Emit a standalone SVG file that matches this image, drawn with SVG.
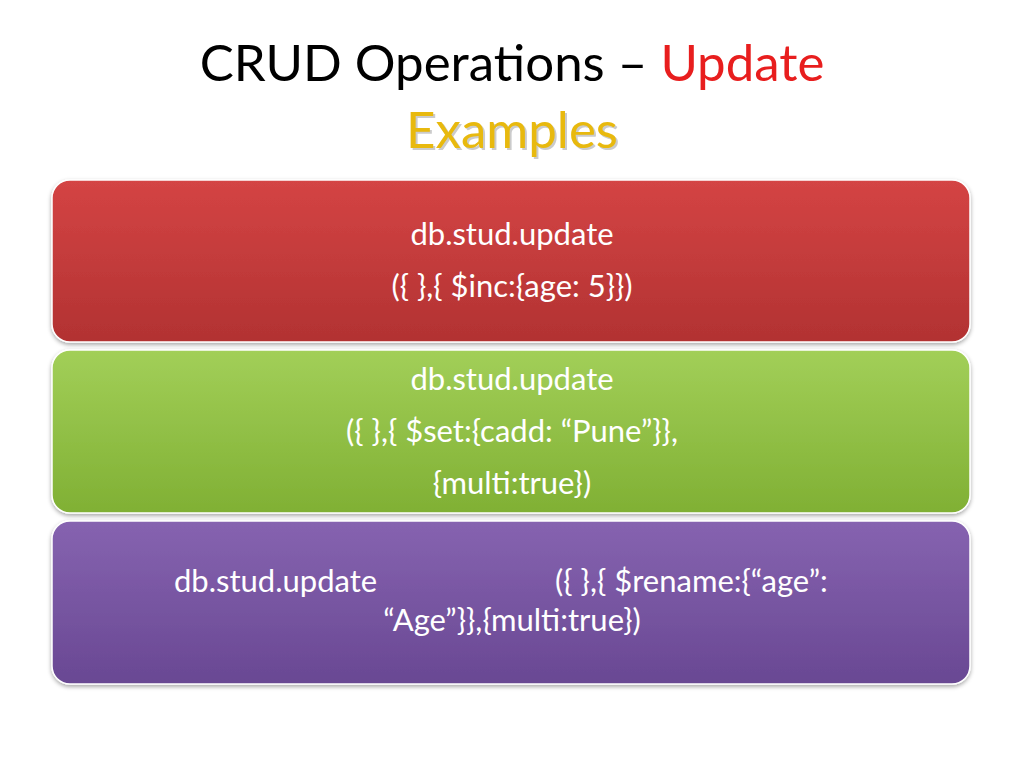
<svg xmlns="http://www.w3.org/2000/svg" width="1024" height="768" viewBox="0 0 1024 768">
<defs>
<linearGradient id="gr" x1="0" y1="0" x2="0" y2="1"><stop offset="0" stop-color="#D44444"/><stop offset="1" stop-color="#B23232"/></linearGradient>
<linearGradient id="gg" x1="0" y1="0" x2="0" y2="1"><stop offset="0" stop-color="#A2CF58"/><stop offset="1" stop-color="#80B034"/></linearGradient>
<linearGradient id="gp" x1="0" y1="0" x2="0" y2="1"><stop offset="0" stop-color="#8663B0"/><stop offset="1" stop-color="#694893"/></linearGradient>
<filter id="sh" x="-5%" y="-5%" width="110%" height="115%"><feDropShadow dx="0" dy="2" stdDeviation="2" flood-color="#000" flood-opacity="0.35"/></filter>
</defs>
<style>
.t{font-family:Lato,"Open Sans",sans-serif;font-size:51px}
.b{font-family:Lato,"Open Sans",sans-serif;font-size:31px;fill:#fff}
.m{text-anchor:middle}
</style>
<rect width="1024" height="768" fill="#fff"/>
<g id="title">
<text class="t m" x="512" y="81" fill="#000">CRUD Operations – <tspan fill="#E81E1E">Update</tspan></text>
<text class="t m" x="514" y="150" fill="#999" opacity="0.5">Examples</text>
<text class="t m" x="512" y="148" fill="#E8B90E">Examples</text>
</g>
<g id="n1"><rect x="52" y="180" width="918" height="162" rx="18" fill="url(#gr)" stroke="#fff" stroke-width="1.5" filter="url(#sh)"/>
<text class="b m" x="512" y="245">db.stud.update</text>
<text class="b m" x="512" y="297">({ },{ $inc:{age: 5}})</text></g>
<g id="n2"><rect x="52" y="350" width="918" height="163" rx="18" fill="url(#gg)" stroke="#fff" stroke-width="1.5" filter="url(#sh)"/>
<text class="b m" x="512" y="390">db.stud.update</text>
<text class="b m" x="512" y="442">({ },{ $set:{cadd: “Pune”}},</text>
<text class="b m" x="512" y="494">{multi:true})</text></g>
<g id="n3"><rect x="52" y="521" width="918" height="163" rx="18" fill="url(#gp)" stroke="#fff" stroke-width="1.5" filter="url(#sh)"/>
<text class="b" x="174" y="592">db.stud.update</text>
<text class="b" x="555" y="592">({ },{ $rename:{“age”:</text>
<text class="b m" x="512" y="631">“Age”}},{multi:true})</text></g>
<g id="connectors"/>
</svg>
